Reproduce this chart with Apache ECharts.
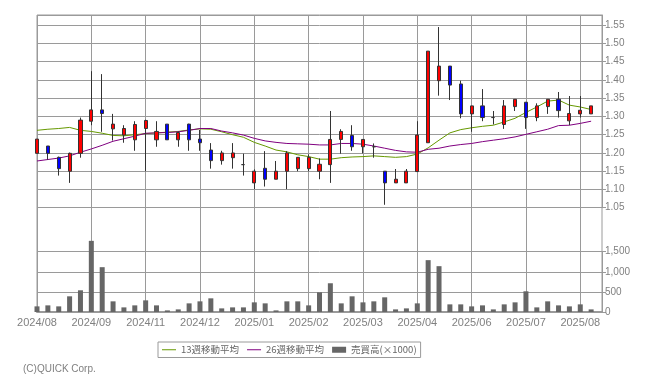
<!DOCTYPE html>
<html><head><meta charset="utf-8">
<script src="https://cdn.jsdelivr.net/npm/echarts@6/dist/echarts.min.js"></script>
<style>html,body{margin:0;padding:0;background:#fff}#c{width:655px;height:380px}</style>
</head><body><div id="c"></div>
<script>
const tickLabels = ['2024/08','2024/09','2024/11','2024/12','2025/01','2025/02','2025/03','2025/04','2025/06','2025/07','2025/08'];
const categories = ['W01','W02','W03','W04','W05','W06','W07','W08','W09','W10','W11','W12','W13','W14','W15','W16','W17','W18','W19','W20','W21','W22','W23','W24','W25','W26','W27','W28','W29','W30','W31','W32','W33','W34','W35','W36','W37','W38','W39','W40','W41','W42','W43','W44','W45','W46','W47','W48','W49','W50','W51','W52','W53'];
const opens  = [1.199,1.219,1.188,1.150,1.199,1.287,1.318,1.266,1.249,1.236,1.267,1.236,1.279,1.236,1.279,1.238,1.208,1.179,1.187,1.168,1.118,1.158,1.128,1.150,1.157,1.157,1.150,1.168,1.237,1.248,1.217,1.217,1.150,1.118,1.118,1.149,1.228,1.398,1.438,1.389,1.307,1.329,1.297,1.278,1.327,1.339,1.297,1.327,1.347,1.288,1.307,1.307];
const closes = [1.238,1.199,1.157,1.199,1.290,1.318,1.308,1.279,1.267,1.278,1.289,1.259,1.236,1.256,1.236,1.228,1.179,1.200,1.200,1.168,1.150,1.128,1.150,1.200,1.188,1.188,1.169,1.237,1.259,1.217,1.237,1.217,1.118,1.128,1.150,1.249,1.479,1.438,1.386,1.307,1.329,1.297,1.297,1.329,1.347,1.297,1.329,1.347,1.316,1.308,1.317,1.329];
const lows   = [1.199,1.181,1.138,1.118,1.187,1.276,1.258,1.234,1.228,1.206,1.150,1.217,1.236,1.217,1.206,1.206,1.157,1.168,1.157,1.138,1.101,1.108,1.128,1.101,1.150,1.150,1.128,1.118,1.198,1.206,1.199,1.187,1.058,1.118,1.118,1.149,1.228,1.357,1.345,1.295,1.258,1.287,1.278,1.266,1.315,1.266,1.287,1.307,1.297,1.276,1.297,1.307];
const highs  = [1.238,1.219,1.190,1.201,1.297,1.424,1.416,1.307,1.276,1.287,1.291,1.287,1.279,1.259,1.280,1.263,1.227,1.206,1.227,1.198,1.155,1.205,1.178,1.205,1.188,1.196,1.185,1.315,1.265,1.276,1.237,1.226,1.150,1.156,1.156,1.287,1.479,1.545,1.438,1.398,1.329,1.375,1.315,1.345,1.347,1.339,1.336,1.347,1.367,1.356,1.356,1.329];
const ma13 = [1.262,1.265,1.267,1.270,1.262,1.259,1.254,1.248,1.247,1.250,1.253,1.255,1.257,1.259,1.263,1.266,1.265,1.258,1.250,1.243,1.229,1.219,1.208,1.203,1.195,1.190,1.183,1.183,1.187,1.189,1.190,1.192,1.190,1.188,1.190,1.197,1.214,1.235,1.255,1.264,1.269,1.273,1.276,1.285,1.295,1.311,1.326,1.342,1.345,1.331,1.326,1.319];
const ma26 = [1.178,1.182,1.186,1.192,1.202,1.211,1.221,1.232,1.239,1.246,1.254,1.255,1.256,1.258,1.262,1.267,1.267,1.260,1.255,1.249,1.240,1.233,1.229,1.226,1.225,1.224,1.222,1.222,1.226,1.226,1.224,1.219,1.213,1.207,1.203,1.202,1.210,1.213,1.219,1.223,1.226,1.231,1.235,1.239,1.244,1.251,1.258,1.265,1.275,1.276,1.281,1.287];
const volume = [140,165,140,390,540,1770,1115,265,115,165,290,165,40,65,215,265,340,90,115,115,240,215,40,265,265,165,490,715,215,390,240,265,365,65,90,215,1290,1140,190,190,140,165,65,190,240,515,115,265,165,140,190,65];

const candleData = opens.map((o, i) => [o, closes[i], lows[i], highs[i]]);
const GRID = '#9a9a9a';
const LBL = '#808080';
const FONT = '"Liberation Sans", Arial, sans-serif';
const LINE_ICON = 'path://M0,0H28V2H0Z';
const every5 = (idx) => idx % 5 === 0;

const chart = echarts.init(document.getElementById('c'), null, {renderer: 'canvas'});
chart.setOption({
  animation: false,
  backgroundColor: '#fff',
  grid: [
    {left: 37, right: 53, top: 15, bottom: 68, show: true, borderColor: GRID, borderWidth: 1, backgroundColor: 'transparent'},
    {left: 37, right: 53, top: 15, bottom: 172.3},
    {left: 37, right: 53, top: 251.7, bottom: 68}
  ],
  xAxis: [
    {gridIndex: 0, type: 'category', data: categories, boundaryGap: false,
     axisLine: {show: true, lineStyle: {color: GRID, width: 2}}, axisTick: {show: false},
     axisLabel: {interval: every5, margin: 5, color: LBL, fontSize: 11, fontFamily: FONT,
       formatter: (v, idx) => (idx % 5 === 0 ? (tickLabels[idx / 5] || '') : '')},
     splitLine: {show: true, interval: every5, lineStyle: {color: GRID, width: 1}}},
    {gridIndex: 1, type: 'category', data: categories, boundaryGap: false, show: false},
    {gridIndex: 2, type: 'category', data: categories, boundaryGap: false, show: false}
  ],
  yAxis: [
    {gridIndex: 0, type: 'value', show: false, min: 0, max: 1, splitLine: {show: false}},
    {gridIndex: 1, type: 'value', position: 'right', min: 1.05, max: 1.578, interval: 0.05, scale: true,
     axisLine: {show: true, lineStyle: {color: GRID}}, axisTick: {show: true, length: 4, lineStyle: {color: GRID}},
     axisLabel: {color: LBL, fontSize: 10, fontFamily: FONT, margin: 3, showMaxLabel: false,
       formatter: (v) => v.toFixed(2)},
     splitLine: {show: true, lineStyle: {color: GRID, width: 1}}},
    {gridIndex: 2, type: 'value', position: 'right', min: 0, max: 1500, interval: 500,
     axisLine: {show: true, lineStyle: {color: GRID}}, axisTick: {show: true, length: 4, lineStyle: {color: GRID}},
     axisLabel: {color: LBL, fontSize: 10, fontFamily: FONT, margin: 3,
       formatter: (v) => v.toLocaleString('en-US')},
     splitLine: {show: true, lineStyle: {color: GRID, width: 1}}}
  ],
  legend: {
    data: [{name: '13週移動平均', icon: LINE_ICON}, {name: '26週移動平均', icon: LINE_ICON}, {name: '売買高(×1000)', icon: 'rect'}],
    left: 158, top: 342, itemWidth: 14, itemHeight: 6, itemGap: 8, padding: [3, 4],
    symbolKeepAspect: true,
    borderColor: GRID, borderWidth: 1, selectedMode: false,
    textStyle: {fontSize: 9.5, color: '#666', fontFamily: '"Noto Sans CJK JP", sans-serif'}
  },
  graphic: [
    {type: 'text', left: 23, top: 364, style: {text: '(C)QUICK Corp.', fontSize: 10, fill: LBL, fontFamily: FONT}}
  ],
  series: [
    {name: '13週移動平均', type: 'line', xAxisIndex: 1, yAxisIndex: 1, data: ma13, symbol: 'none', z: 2,
     lineStyle: {color: '#669900', width: 1}, itemStyle: {color: '#669900'}},
    {name: '26週移動平均', type: 'line', xAxisIndex: 1, yAxisIndex: 1, data: ma26, symbol: 'none', z: 2,
     lineStyle: {color: '#800080', width: 1}, itemStyle: {color: '#800080'}},
    {name: '株価', type: 'candlestick', xAxisIndex: 1, yAxisIndex: 1, data: candleData, barWidth: 3.6, clip: false, z: 3,
     itemStyle: {color: '#ff0000', color0: '#0000ff', borderColor: '#333', borderColor0: '#333', borderColorDoji: '#333', borderWidth: 1}},
    {name: '売買高(×1000)', type: 'bar', xAxisIndex: 2, yAxisIndex: 2, data: volume, barWidth: 5, clip: false,
     itemStyle: {color: '#666666'}}
  ]
});
</script></body></html>
